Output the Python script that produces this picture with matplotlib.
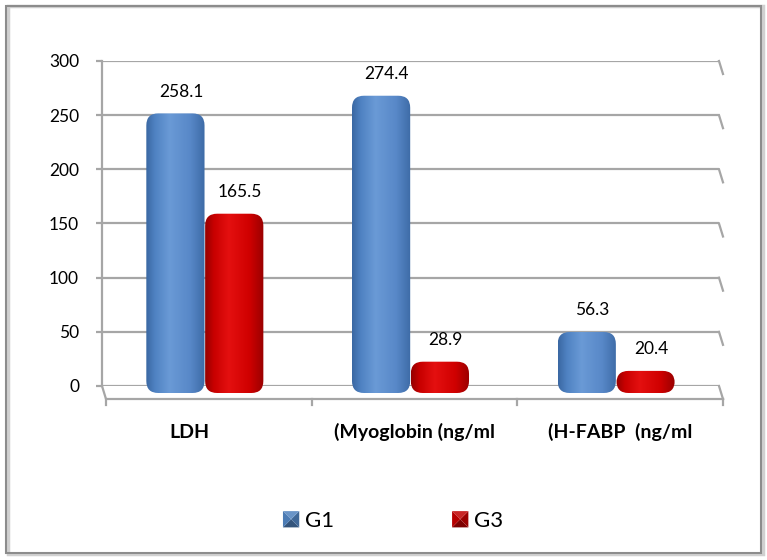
import numpy as np
import matplotlib
matplotlib.use('Agg')
import matplotlib.pyplot as plt
from matplotlib.patches import FancyBboxPatch, Rectangle, Polygon
from matplotlib.colors import LinearSegmentedColormap, to_rgb
from matplotlib.legend_handler import HandlerPatch

# data
categories = ['LDH', '(Myoglobin (ng/ml', '(H-FABP  (ng/ml']
series = ['G1', 'G3']
g1_values = [258.1, 274.4, 56.3]
g3_values = [165.5, 28.9, 20.4]
y_ticks = [0, 50, 100, 150, 200, 250, 300]

W, H = 767, 560
plt.rcParams['font.family'] = ['Lato', 'DejaVu Sans']
fig = plt.figure(figsize=(W / 100, H / 100), dpi=100)

# back wall box in pixels (left, top, right, bottom)
L, T, R, B = 102, 61, 719, 386
grid_col = '#a6a6a6'


def box(dx=0, dy=0):
    return [(L + dx) / W, (H - B - dy) / H, (R - L) / W, (B - T) / H]


ax = fig.add_axes(box())
ax.set_xlim(-0.5, 2.5)
ax.set_ylim(0, 300)
ax.set_yticks(y_ticks)
ax.set_xticks([])
ax.grid(axis='y', color=grid_col, lw=1.6)
for s in ['top', 'right', 'bottom']:
    ax.spines[s].set_visible(False)
ax.spines['left'].set_color(grid_col)
ax.spines['left'].set_linewidth(1.6)
ax.tick_params(axis='y', length=4.5, width=1.6, color=grid_col, pad=12, labelsize=12.5)
ax.patch.set_alpha(0)

# depth (3d look): offsets in data units
dxu = 4 / ((R - L) / 3.0)
dyu = 13 / ((B - T) / 300.0)
tick_u = 6 / ((B - T) / 300.0)
for v in y_ticks:
    ax.plot([2.5, 2.5 + dxu], [v, v - dyu], color=grid_col, lw=1.6, clip_on=False)
ax.plot([-0.5, -0.5 + dxu, 2.5 + dxu], [0, -dyu, -dyu], color=grid_col, lw=1.6, clip_on=False)
for xt in [-0.5, 0.5, 1.5, 2.5]:
    ax.plot([xt + dxu, xt + dxu], [-dyu, -dyu - tick_u], color=grid_col, lw=1.6, clip_on=False)

# category labels
label_shift = [-19, 0, 0]
for i, c in enumerate(categories):
    ax.annotate(c, (i + dxu, 0), xytext=(label_shift[i] * 0.72, -46 * 0.72),
                textcoords='offset points', ha='center', va='center',
                fontsize=14, fontweight='bold', annotation_clip=False)

# bars sit a bit in front of the wall
bx = fig.add_axes(box(0, 7))
bx.set_xlim(-0.5, 2.5)
bx.set_ylim(0, 300)
bx.axis('off')

blue_map = LinearSegmentedColormap.from_list('b', [(0, '#3a67a2'), (0.15, '#4f82c2'), (0.4, '#6a9ad6'),
                                                     (0.75, '#5888c8'), (1, '#3d6ba6')])
red_map = LinearSegmentedColormap.from_list('r', [(0, '#940000'), (0.15, '#c80000'), (0.4, '#e41010'),
                                                    (0.75, '#d00000'), (1, '#990000')])

px_x = (R - L) / 3.0
px_y = (B - T) / 300.0
width = 0.283
x = np.arange(len(categories))
grad = np.linspace(0, 1, 256).reshape(1, -1)

for vals, off, cmap, base in [(g1_values, -0.143, blue_map, '#4f81bd'), (g3_values, 0.143, red_map, '#c00000')]:
    bars = bx.bar(x + off, vals, width, color=base)
    for b, v in zip(bars, vals):
        b.set_visible(False)
        x0, w, h = b.get_x(), b.get_width(), b.get_height()
        rad = 12 / px_x
        patch = FancyBboxPatch((x0, 0), w, h, boxstyle='round,pad=0,rounding_size=%f' % rad,
                               mutation_aspect=px_x / px_y, fc='none', ec='none')
        bx.add_patch(patch)
        im = bx.imshow(grad, cmap=cmap, extent=[x0, x0 + w, 0, h], aspect='auto', zorder=2)
        im.set_clip_path(patch)
        bx.annotate('%.1f' % v, (x0 + w / 2, h), xytext=(4, 10), textcoords='offset points',
                    ha='center', va='bottom', fontsize=12.5)
bx.set_xlim(-0.5, 2.5)
bx.set_ylim(0, 300)


# legend with pyramid-shaded squares
class PyramidHandler(HandlerPatch):
    def create_artists(self, legend, orig_handle, xdescent, ydescent, width, height, fontsize, trans):
        s = min(width, height)
        x0 = -xdescent + (width - s) / 2
        y0 = -ydescent + (height - s) / 2
        c = (x0 + s / 2, y0 + s / 2)
        pts = [(x0, y0), (x0 + s, y0), (x0 + s, y0 + s), (x0, y0 + s)]
        base = np.array(to_rgb(orig_handle.get_facecolor()))
        shades = [0.65, 0.8, 1.15, 0.95]
        arts = []
        for k in range(4):
            f = shades[k]
            col = np.clip(base * f if f <= 1 else base + (1 - base) * (f - 1), 0, 1)
            p = Polygon([pts[k], pts[(k + 1) % 4], c], closed=True, fc=col, ec='none', transform=trans)
            arts.append(p)
        return arts


handles = [Rectangle((0, 0), 1, 1, fc='#4f81bd'), Rectangle((0, 0), 1, 1, fc='#c00000')]
fig.legend(handles, series, loc='center', bbox_to_anchor=(393 / W, 1 - 521 / H), ncol=2,
           frameon=False, fontsize=16, handlelength=0.75, handleheight=0.75, handletextpad=0.25,
           columnspacing=5.3, handler_map={Rectangle: PyramidHandler()})

# outer frame
fig.patches.append(Rectangle((8 / W, 6 / H), 755 / W, 548 / H, transform=fig.transFigure,
                             fc='none', ec='#d0d0d0', lw=2.5))
fig.patches.append(Rectangle((6 / W, 7 / H), 755 / W, 547 / H, transform=fig.transFigure,
                             fc='none', ec='#8c8c8c', lw=1.5))

fig.savefig('out.png', dpi=100)
